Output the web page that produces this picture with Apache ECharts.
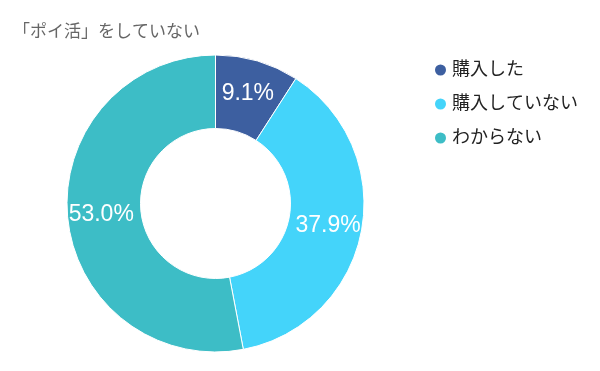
<!DOCTYPE html>
<html><head><meta charset="utf-8">
<script src="https://cdn.jsdelivr.net/npm/echarts@6/dist/echarts.min.js"></script>
<style>html,body{margin:0;padding:0;background:#fff}#c{width:600px;height:371px}</style>
</head><body><div id="c"></div>
<script>
const title = "「ポイ活」をしていない";
const categories = ["購入した", "購入していない", "わからない"];
const values = [9.1, 37.9, 53.0];
const colors = ["#3D5FA0", "#44D4FA", "#3DBDC6"];
const FONT = "'Liberation Sans', 'Noto Sans CJK JP', sans-serif";
const chart = echarts.init(document.getElementById('c'));
chart.setOption({
  animation: false,
  textStyle: {fontFamily: FONT},
  title: {text: title, left: 8, top: 19, textStyle: {fontSize: 17, fontWeight: 'normal', color: '#666', fontFamily: FONT}},
  legend: {
    orient: 'vertical', left: 428, top: 56, icon: 'circle', itemWidth: 13, itemHeight: 13,
    itemGap: 16, data: categories,
    textStyle: {fontSize: 18, color: '#222', fontFamily: FONT}
  },
  color: colors,
  series: [{
    type: 'pie', center: [215.5, 203.5], radius: [75, 148.5],
    startAngle: 90, clockwise: true,
    itemStyle: {borderColor: '#fff', borderWidth: 1},
    label: {position: 'inside', color: '#fff', fontSize: 23, fontFamily: FONT,
      formatter: p => p.value.toFixed(1) + '%'},
    labelLine: {show: false},
    emphasis: {disabled: true},
    data: categories.map((n, i) => ({name: n, value: values[i]}))
  }]
});
</script></body></html>
